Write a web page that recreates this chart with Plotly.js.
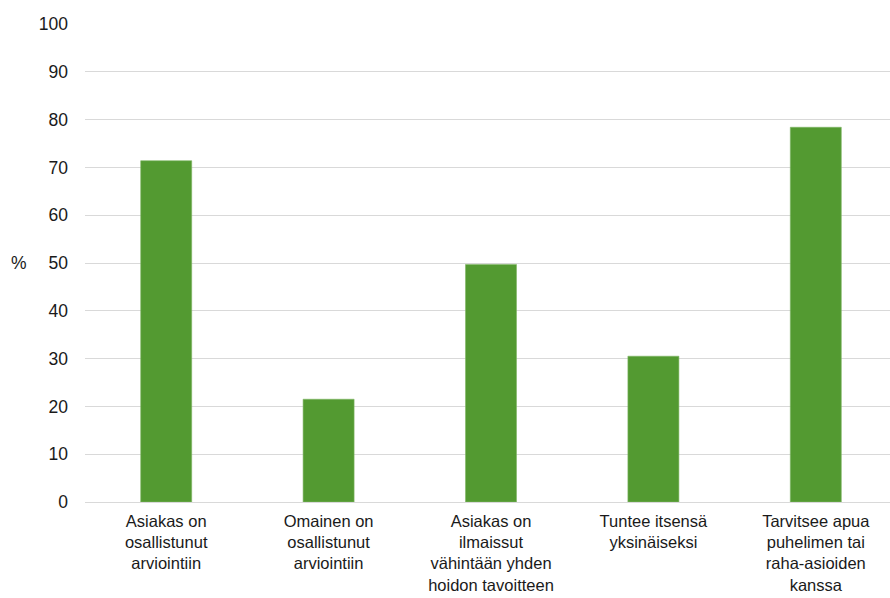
<!DOCTYPE html>
<html>
<head>
<meta charset="utf-8">
<script src="https://cdn.plot.ly/plotly-3.0.1.min.js"></script>
<style>
  html, body { margin: 0; padding: 0; overflow: hidden; background: #fff; }
  #chart { width: 897px; height: 598px; }
</style>
</head>
<body>
<div id="chart"></div>
<script>
// Share of clients (%) for each assessment item
const categories = [
  "Asiakas on<br>osallistunut<br>arviointiin",
  "Omainen on<br>osallistunut<br>arviointiin",
  "Asiakas on<br>ilmaissut<br>vähintään yhden<br>hoidon tavoitteen",
  "Tuntee itsensä<br>yksinäiseksi",
  "Tarvitsee apua<br>puhelimen tai<br>raha-asioiden<br>kanssa"
];
const values = [71.4, 21.5, 49.7, 30.5, 78.4];
const yTicks = [0, 10, 20, 30, 40, 50, 60, 70, 80, 90, 100];

const font = { family: "Liberation Sans, Arial, sans-serif", size: 17.5, color: "#1a1a1a" };
const xFont = { family: "Liberation Sans, Arial, sans-serif", size: 16.5, color: "#1a1a1a" };

const trace = {
  type: "bar",
  x: categories,
  y: values,
  marker: { color: "#539a31", line: { color: "#7fb665", width: 0.6 } },
  hoverinfo: "skip"
};

const layout = {
  width: 897,
  height: 598,
  margin: { l: 85, r: 0, t: 24, b: 96 },
  paper_bgcolor: "#ffffff",
  plot_bgcolor: "#ffffff",
  font: font,
  showlegend: false,
  bargap: 0.686,
  xaxis: {
    type: "category",
    tickfont: xFont,
    showgrid: false,
    zeroline: false,
    showline: false,
    ticks: "",
    ticklabelstandoff: 7
  },
  yaxis: {
    range: [0, 100],
    tickvals: yTicks,
    ticktext: yTicks.map(String),
    tickfont: font,
    showgrid: true,
    gridcolor: "#d9d9d9",
    gridwidth: 1,
    zeroline: true,
    zerolinecolor: "#d9d9d9",
    zerolinewidth: 1,
    showline: false,
    ticks: "",
    ticklabelstandoff: 16
  },
  annotations: [{
    text: "%",
    xref: "paper", yref: "paper",
    x: 0, xshift: -66, y: 0.5,
    xanchor: "center", yanchor: "middle",
    showarrow: false,
    font: font
  }]
};

Plotly.newPlot("chart", [trace], layout, { staticPlot: true, displayModeBar: false });
</script>
</body>
</html>
